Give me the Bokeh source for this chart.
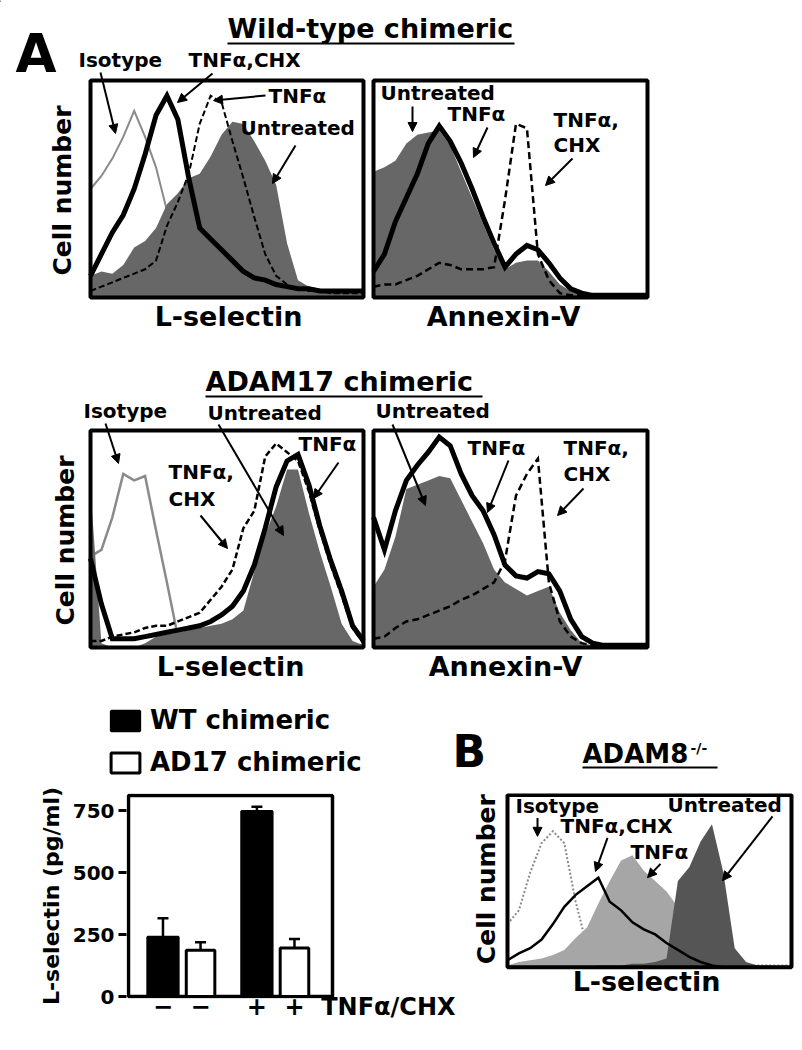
import math
from bokeh.plotting import figure
from bokeh.models import (Range1d, Label, Arrow, NormalHead, TeeHead, Whisker,
                          ColumnDataSource, FixedTicker, Legend, LegendItem)
from bokeh.layouts import column, row
from bokeh.embed import file_html
from bokeh.resources import INLINE

FONT = "DejaVu Sans"

# ---------------- data ----------------
CHANNEL = list(range(0, 101, 4))  # relative fluorescence channel (0-100)

# Panel A, wild-type chimeric, L-selectin (fraction of max cell number)
WT_LSEL_ISOTYPE = [0.50, 0.56, 0.64, 0.74, 0.86, 0.74, 0.60, 0.40, 0.27, 0.17, 0.10, 0.06, 0.04,
                   0.03, 0.02, 0.02, 0.02, 0.01, 0.01, 0.01, 0.01, 0.01, 0.01, 0.01, 0.01, 0.01]
WT_LSEL_UNTREATED = [0.10, 0.12, 0.11, 0.15, 0.23, 0.26, 0.32, 0.43, 0.48, 0.55, 0.57, 0.65, 0.75,
                     0.81, 0.80, 0.72, 0.63, 0.52, 0.25, 0.08, 0.05, 0.04, 0.03, 0.03, 0.02, 0.02]
WT_LSEL_TNF = [0.03, 0.05, 0.07, 0.09, 0.11, 0.13, 0.17, 0.33, 0.44, 0.57, 0.80, 0.93, 0.90,
               0.72, 0.55, 0.37, 0.20, 0.10, 0.06, 0.04, 0.03, 0.03, 0.02, 0.02, 0.02, 0.02]
WT_LSEL_TNF_CHX = [0.10, 0.20, 0.30, 0.38, 0.50, 0.66, 0.84, 0.93, 0.82, 0.55, 0.32, 0.27, 0.22,
                   0.17, 0.12, 0.09, 0.08, 0.06, 0.05, 0.04, 0.04, 0.03, 0.03, 0.03, 0.03, 0.03]

# Panel A, wild-type chimeric, Annexin-V
WT_ANNX_UNTREATED = [0.58, 0.60, 0.63, 0.71, 0.75, 0.76, 0.77, 0.70, 0.58, 0.46, 0.34, 0.22, 0.13,
                     0.16, 0.17, 0.17, 0.12, 0.06, 0.03, 0.02, 0.01, 0.01, 0.01, 0.01, 0.01, 0.01]
WT_ANNX_TNF = [0.12, 0.20, 0.35, 0.46, 0.57, 0.71, 0.79, 0.72, 0.62, 0.50, 0.37, 0.25, 0.14,
               0.20, 0.24, 0.22, 0.16, 0.09, 0.04, 0.02, 0.01, 0.01, 0.01, 0.01, 0.01, 0.01]
WT_ANNX_TNF_CHX = [0.05, 0.06, 0.06, 0.08, 0.10, 0.13, 0.16, 0.15, 0.13, 0.13, 0.13, 0.14, 0.45,
                   0.80, 0.78, 0.20, 0.08, 0.02, 0.01, 0.01, 0.01, 0.01, 0.01, 0.01, 0.01, 0.01]

# Panel A, ADAM17 chimeric, L-selectin
A17_LSEL_ISOTYPE = [0.42, 0.45, 0.60, 0.80, 0.77, 0.79, 0.54, 0.30, 0.05, 0.03, 0.02, 0.01, 0.01,
                    0.01, 0.01, 0.01, 0.01, 0.01, 0.01, 0.01, 0.01, 0.01, 0.01, 0.01, 0.01, 0.01]
A17_LSEL_UNTREATED = [0.73, 0.02, 0.00, 0.00, 0.00, 0.02, 0.05, 0.06, 0.07, 0.08, 0.09, 0.10, 0.11,
                      0.13, 0.17, 0.35, 0.52, 0.65, 0.82, 0.82, 0.62, 0.44, 0.28, 0.11, 0.03, 0.01]
A17_LSEL_TNF = [0.41, 0.20, 0.04, 0.04, 0.04, 0.05, 0.06, 0.07, 0.08, 0.09, 0.10, 0.12, 0.15,
                0.19, 0.26, 0.38, 0.55, 0.74, 0.86, 0.89, 0.75, 0.56, 0.40, 0.26, 0.10, 0.03]
A17_LSEL_TNF_CHX = [0.03, 0.03, 0.05, 0.06, 0.07, 0.09, 0.10, 0.10, 0.12, 0.14, 0.16, 0.22, 0.28,
                    0.36, 0.55, 0.63, 0.88, 0.94, 0.90, 0.86, 0.72, 0.54, 0.38, 0.24, 0.09, 0.02]

# Panel A, ADAM17 chimeric, Annexin-V
A17_ANNX_UNTREATED = [0.28, 0.36, 0.51, 0.73, 0.75, 0.77, 0.79, 0.78, 0.68, 0.58, 0.48, 0.36, 0.30,
                      0.27, 0.24, 0.26, 0.28, 0.16, 0.08, 0.02, 0.01, 0.01, 0.01, 0.01, 0.01, 0.01]
A17_ANNX_TNF = [0.60, 0.45, 0.63, 0.77, 0.84, 0.90, 0.97, 0.93, 0.80, 0.70, 0.63, 0.52, 0.38,
                0.33, 0.32, 0.35, 0.34, 0.26, 0.13, 0.05, 0.02, 0.01, 0.01, 0.01, 0.01, 0.01]
A17_ANNX_TNF_CHX = [0.04, 0.05, 0.09, 0.12, 0.13, 0.15, 0.17, 0.19, 0.22, 0.24, 0.27, 0.30, 0.40,
                    0.70, 0.80, 0.87, 0.30, 0.12, 0.05, 0.02, 0.01, 0.01, 0.01, 0.01, 0.01, 0.01]

# Panel B, ADAM8-/-, L-selectin
B_ISOTYPE = [0.25, 0.33, 0.55, 0.72, 0.79, 0.72, 0.38, 0.12, 0.05, 0.03, 0.02, 0.02, 0.01,
             0.01, 0.01, 0.01, 0.01, 0.01, 0.01, 0.01, 0.01, 0.01, 0.01, 0.01, 0.01, 0.01]
B_TNF = [0.01, 0.03, 0.04, 0.05, 0.07, 0.10, 0.17, 0.23, 0.37, 0.50, 0.62, 0.65, 0.56,
         0.50, 0.44, 0.35, 0.21, 0.12, 0.07, 0.04, 0.02, 0.01, 0.01, 0.01, 0.01, 0.01]
B_UNTREATED = [0.00, 0.00, 0.00, 0.00, 0.00, 0.00, 0.00, 0.00, 0.01, 0.01, 0.01, 0.02, 0.02,
               0.03, 0.05, 0.50, 0.58, 0.73, 0.83, 0.55, 0.11, 0.03, 0.01, 0.01, 0.00, 0.00]
B_TNF_CHX = [0.04, 0.08, 0.11, 0.16, 0.25, 0.35, 0.42, 0.47, 0.52, 0.38, 0.33, 0.26, 0.22,
             0.19, 0.14, 0.10, 0.06, 0.03, 0.01, 0.00, 0.00, 0.00, 0.00, 0.00, 0.00, 0.00]

# Bar chart: soluble L-selectin (pg/ml)
TREATMENT = ["\u2212", "+"]
TREATMENT_LABEL = "TNF\u03b1/CHX"
GROUPS = ["WT chimeric", "AD17 chimeric"]
WT_MEAN = [240, 748]
WT_ERR = [76, 18]
AD17_MEAN = [187, 196]
AD17_ERR = [32, 36]
Y_TICKS = [0, 250, 500, 750]

# ---------------- layout constants ----------------
WT_X = [1.0, 3.5]      # bar positions
AD_X = [2.0, 4.5]
ROW_LABEL_X = 7.0
BOX_X = (0.082, 5.512)
BOX_TOP = 812

GRAY_A = "#676767"
ISO_GRAY = "#8a8a8a"
WT_STYLE = dict(fill_color="black", line_color="black", line_width=2.5)
AD_STYLE = dict(fill_color="white", line_color="black", line_width=3)


def lab(p, x, y, text, size=20, align="left", center=False, angle=0.0, rn=None):
    """y is the text baseline unless center=True (then y is the text centre)."""
    kw = {}
    if rn:
        kw = dict(x_range_name=rn[0], y_range_name=rn[1])
    yy = y if center else y - 0.36 * size
    p.add_layout(Label(x=x, y=yy, text=text, text_font=FONT, text_font_style="bold",
                       text_font_size=f"{size}px", text_align=align, text_baseline="middle",
                       angle=angle, text_color="black", **kw))


def arr(p, x0, y0, x1, y1, rn=None):
    kw = {}
    if rn:
        kw = dict(x_range_name=rn[0], y_range_name=rn[1])
    p.add_layout(Arrow(end=NormalHead(size=9, fill_color="black", line_color="black", line_width=1),
                       x_start=x0, y_start=y0, x_end=x1, y_end=y1,
                       line_width=2, line_color="black", **kw))


def fill(p, ys, color, name=None):
    kw = dict(x_range_name=name, y_range_name=name) if name else {}
    p.varea(x=CHANNEL, y1=[0] * len(CHANNEL), y2=ys, fill_color=color, **kw)


def line(p, ys, color="black", width=2.0, dash="solid", name=None):
    kw = dict(x_range_name=name, y_range_name=name) if name else {}
    p.line(x=CHANNEL, y=ys, line_color=color, line_width=width, line_dash=dash,
           line_join="miter", **kw)


def box(p, name=None, width=4):
    kw = dict(x_range_name=name, y_range_name=name) if name else {}
    p.quad(left=0, right=100, bottom=0, top=1, fill_alpha=0, line_color="black",
           line_width=width, **kw)


PAGE_W = 800
TOP_H = 778
BOT_H = 268

# ---------------- top figure (panel A + headers) ----------------
top = figure(width=PAGE_W, height=TOP_H, x_range=Range1d(0, PAGE_W), y_range=Range1d(TOP_H, 0),
             min_border=0, x_axis_location=None, y_axis_location=None, title=None,
             toolbar_location=None, output_backend="svg", outline_line_color=None)
top.grid.visible = False

BOXES = {
    "p1": (90, 363, 80, 297),
    "p2": (373, 647, 80, 297),
    "p3": (90, 363, 430, 647),
    "p4": (373, 647, 430, 647),
}
ex, ey = {}, {}
for name, (x0, x1, y0, y1) in BOXES.items():
    ex[name] = Range1d((0 - x0) / (x1 - x0) * 100, (PAGE_W - x0) / (x1 - x0) * 100)
    ey[name] = Range1d((y1 - TOP_H) / (y1 - y0), (y1 - 0) / (y1 - y0))
top.extra_x_ranges = ex
top.extra_y_ranges = ey

# panel 1
line(top, WT_LSEL_ISOTYPE, ISO_GRAY, 2, name="p1")
fill(top, WT_LSEL_UNTREATED, GRAY_A, "p1")
line(top, WT_LSEL_TNF, "black", 2, "6 3", "p1")
line(top, WT_LSEL_TNF_CHX, "black", 5, name="p1")
box(top, "p1")
# panel 2
fill(top, WT_ANNX_UNTREATED, GRAY_A, "p2")
line(top, WT_ANNX_TNF_CHX, "black", 2.5, "7 4", "p2")
line(top, WT_ANNX_TNF, "black", 5, name="p2")
box(top, "p2")
# panel 3
line(top, A17_LSEL_ISOTYPE, ISO_GRAY, 2.5, name="p3")
fill(top, A17_LSEL_UNTREATED, GRAY_A, "p3")
line(top, A17_LSEL_TNF_CHX, "black", 2.5, "6 3", "p3")
line(top, A17_LSEL_TNF, "black", 5, name="p3")
box(top, "p3")
# panel 4
fill(top, A17_ANNX_UNTREATED, GRAY_A, "p4")
line(top, A17_ANNX_TNF_CHX, "black", 2.5, "7 4", "p4")
line(top, A17_ANNX_TNF, "black", 5, name="p4")
box(top, "p4")

# titles / labels (page coordinates)
lab(top, 15, 72, "A", size=53)
lab(top, 227, 38, "Wild-type chimeric", size=27)
top.segment(x0=227, y0=43, x1=514, y1=43, line_color="black", line_width=2)
lab(top, 205, 391, "ADAM17 chimeric", size=27)
top.segment(x0=205, y0=396, x1=482, y1=396, line_color="black", line_width=2)

lab(top, 62, 190, "Cell number", size=25, align="center", center=True, angle=math.pi / 2)
lab(top, 65, 540, "Cell number", size=25, align="center", center=True, angle=math.pi / 2)
lab(top, 228, 326, "L-selectin", size=27, align="center")
lab(top, 503, 326, "Annexin-V", size=27, align="center")
lab(top, 230, 676, "L-selectin", size=27, align="center")
lab(top, 505, 676, "Annexin-V", size=27, align="center")

# panel 1 annotations
lab(top, 78, 67, "Isotype")
arr(top, 100, 72, 115, 133)
lab(top, 188, 67, "TNF\u03b1,CHX")
arr(top, 212, 73, 177, 102)
lab(top, 268, 103, "TNF\u03b1")
arr(top, 265, 95, 213, 100)
lab(top, 240, 135, "Untreated")
arr(top, 295, 145, 272, 183)
# panel 2 annotations
lab(top, 380, 100, "Untreated")
arr(top, 412, 106, 412, 131)
lab(top, 447, 121, "TNF\u03b1")
arr(top, 487, 127, 473, 157)
lab(top, 553, 127, "TNF\u03b1,")
lab(top, 553, 152, "CHX")
arr(top, 572, 158, 545, 185)
# panel 3 annotations
lab(top, 83, 418, "Isotype")
arr(top, 105, 423, 118, 463)
lab(top, 207, 420, "Untreated")
arr(top, 218, 424, 283, 535)
lab(top, 168, 479, "TNF\u03b1,")
lab(top, 168, 506, "CHX")
arr(top, 200, 515, 227, 548)
lab(top, 298, 451, "TNF\u03b1")
arr(top, 338, 462, 313, 498)
# panel 4 annotations
lab(top, 375, 418, "Untreated")
arr(top, 392, 424, 425, 505)
lab(top, 467, 455, "TNF\u03b1")
arr(top, 508, 460, 487, 512)
lab(top, 563, 455, "TNF\u03b1,")
lab(top, 563, 481, "CHX")
arr(top, 583, 488, 557, 515)

# bar-chart legend (proxy swatches styled like the bars below, placed off-canvas)
sw_wt = top.vbar(x=[-500], top=[-500], width=1, **WT_STYLE)
sw_ad = top.vbar(x=[-500], top=[-500], width=1, **AD_STYLE)
legend = Legend(items=[LegendItem(label=GROUPS[0], renderers=[sw_wt]),
                       LegendItem(label=GROUPS[1], renderers=[sw_ad])],
                location=(107, 1), orientation="vertical", padding=0, margin=0, spacing=12,
                glyph_width=36, glyph_height=25, label_standoff=7,
                border_line_color=None, background_fill_alpha=0,
                label_text_font=FONT, label_text_font_style="bold", label_text_font_size="26px",
                label_text_color="black")
top.add_layout(legend)

# panel B header
lab(top, 452, 767, "B", size=44)
lab(top, 582, 763, "ADAM8", size=26)
lab(top, 690, 753, "-/-", size=14)
top.segment(x0=582, y0=767, x1=717, y1=767, line_color="black", line_width=2)

# ---------------- bar chart ----------------
BAR_W = 458
bar = figure(width=BAR_W, height=BOT_H, x_range=Range1d(0.029, 8.866), y_range=Range1d(-8, 820),
             min_border_left=126, min_border_right=0, min_border_top=15, min_border_bottom=48,
             title=None, toolbar_location=None, output_backend="svg", outline_line_color=None)
bar.grid.visible = False

bar.quad(left=BOX_X[0], right=BOX_X[1], bottom=0, top=BOX_TOP, fill_alpha=0,
         line_color="black", line_width=3.5)
bar.vbar(x=WT_X, top=WT_MEAN, width=0.82, **WT_STYLE)
bar.vbar(x=AD_X, top=AD17_MEAN, width=0.76, **AD_STYLE)

for xs, means, errs in ((WT_X, WT_MEAN, WT_ERR), (AD_X, AD17_MEAN, AD17_ERR)):
    src = ColumnDataSource(dict(x=xs, lower=means, upper=[m + e for m, e in zip(means, errs)]))
    bar.add_layout(Whisker(source=src, base="x", lower="lower", upper="upper", dimension="height",
                           line_width=2.5, line_color="black",
                           upper_head=TeeHead(size=11, line_width=2.5, line_color="black"),
                           lower_head=None))

yax = bar.yaxis[0]
yax.ticker = FixedTicker(ticks=Y_TICKS)
yax.bounds = (0, BOX_TOP)
yax.axis_label = "L-selectin (pg/ml)"
yax.axis_label_text_font = FONT
yax.axis_label_text_font_style = "bold"
yax.axis_label_text_font_size = "22px"
yax.axis_label_text_color = "black"
yax.axis_label_standoff = 6
yax.major_label_text_font = FONT
yax.major_label_text_font_style = "bold"
yax.major_label_text_font_size = "20px"
yax.major_label_text_color = "black"
yax.major_tick_out = 8
yax.major_tick_in = 0
yax.major_tick_line_width = 3
yax.major_tick_line_color = "black"
yax.minor_tick_line_color = None
yax.axis_line_color = None
yax.major_label_standoff = 4

xax = bar.xaxis[0]
xax.ticker = FixedTicker(ticks=WT_X + AD_X + [ROW_LABEL_X])
overrides = {ROW_LABEL_X: TREATMENT_LABEL}
for i, t in enumerate(TREATMENT):
    overrides[WT_X[i]] = t
    overrides[AD_X[i]] = t
xax.major_label_overrides = overrides
xax.major_label_text_font = FONT
xax.major_label_text_font_style = "bold"
xax.major_label_text_font_size = "24px"
xax.major_label_text_color = "black"
xax.major_tick_line_color = None
xax.minor_tick_line_color = None
xax.major_tick_out = 0
xax.major_tick_in = 0
xax.major_label_standoff = -6
xax.axis_line_color = None

# ---------------- panel B ----------------
B_W = PAGE_W - BAR_W
BX0, BX1, BY0, BY1 = 507, 791, 780, 1005   # box in page coordinates
PY_TOP = TOP_H
pb = figure(width=B_W, height=BOT_H,
            x_range=Range1d((BAR_W - BX0) / (BX1 - BX0) * 100, (PAGE_W - BX0) / (BX1 - BX0) * 100),
            y_range=Range1d((BY1 - (PY_TOP + BOT_H)) / (BY1 - BY0), (BY1 - PY_TOP) / (BY1 - BY0)),
            min_border=0, x_axis_location=None, y_axis_location=None, title=None,
            toolbar_location=None, output_backend="svg", outline_line_color=None)
pb.grid.visible = False
pb.extra_x_ranges = {"px": Range1d(BAR_W, PAGE_W)}
pb.extra_y_ranges = {"py": Range1d(PY_TOP + BOT_H, PY_TOP)}
RN = ("px", "py")

line(pb, B_ISOTYPE, ISO_GRAY, 2, "2 2")
fill(pb, B_TNF, "#a6a6a6")
fill(pb, B_UNTREATED, "#555555")
line(pb, B_TNF_CHX, "black", 2.5)
box(pb)

lab(pb, 486, 890, "Cell number", size=25, align="center", center=True,
    angle=math.pi / 2, rn=RN)
lab(pb, 646, 1034, "L-selectin", size=27, align="center", rn=RN)
lab(pb, 515, 802, "Isotype", rn=RN)
arr(pb, 537, 810, 537, 834, rn=RN)
lab(pb, 667, 800, "Untreated", rn=RN)
arr(pb, 772, 808, 722, 892, rn=RN)
lab(pb, 560, 828, "TNF\u03b1,CHX", rn=RN)
arr(pb, 607, 836, 595, 880, rn=RN)
lab(pb, 630, 862, "TNF\u03b1", rn=RN)
arr(pb, 660, 870, 647, 888, rn=RN)

layout = column(top, row(bar, pb, spacing=0), spacing=0)

with open("out.html", "w") as f:
    f.write(file_html(layout, INLINE))
